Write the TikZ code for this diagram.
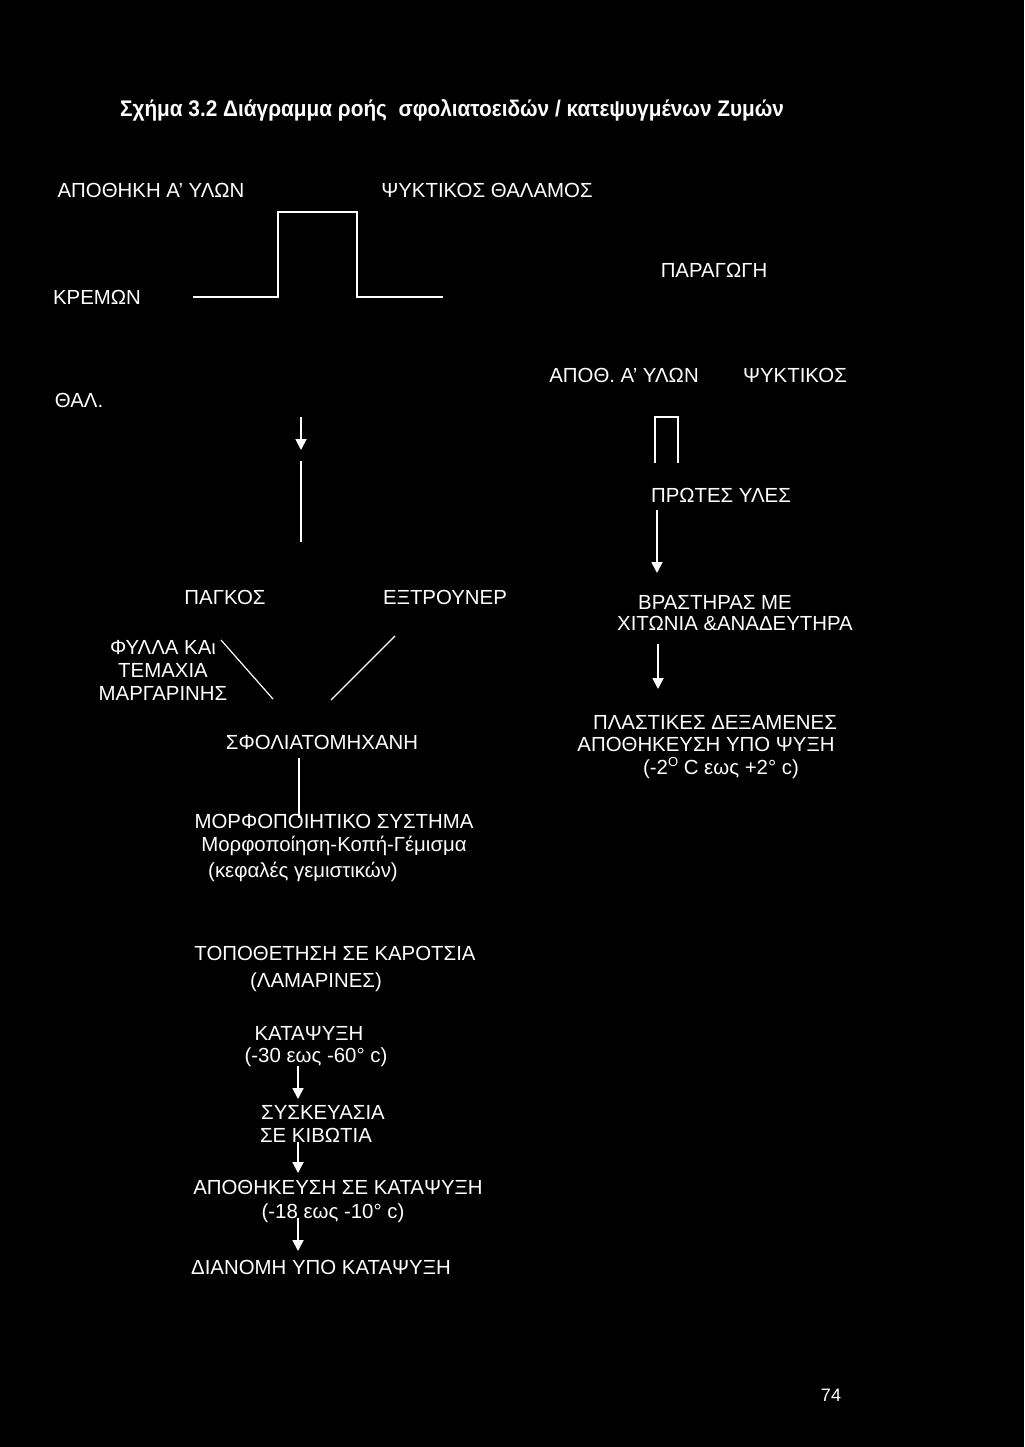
\documentclass[tikz,border=0pt]{standalone}
\usepackage{fontspec}
\setmainfont{Liberation Sans}
\newfontfamily\titlefont[FakeStretch=0.92]{Liberation Sans}
\usetikzlibrary{arrows.meta}
\newcommand{\supO}{\raisebox{0.75ex}{\fontsize{6.5}{7}\selectfont O}}
\begin{document}
\begin{tikzpicture}[x=0.5pt,y=-0.5pt,
  lbl/.style={text=white,inner sep=0pt,font=\fontsize{10.2}{12}\selectfont},
  wire/.style={draw=white,line width=0.9pt},
  arr/.style={wire,-{Triangle[width=5.5pt,length=5.5pt]}}]
\fill[black] (0,0) rectangle (1024,1447);
\useasboundingbox (0,0) rectangle (1024,1447);
% title
\node[lbl,font=\titlefont\bfseries\fontsize{11.3}{13}\selectfont] (title) at (452,110) {Σχήμα 3.2 Διάγραμμα ροής \ σφολιατοειδών / κατεψυγμένων Ζυμών};
% top
\node[lbl] (apoth) at (151,190) {ΑΠΟΘΗΚΗ Α’ ΥΛΩΝ};
\node[lbl] (psykt) at (487,190) {ΨΥΚΤΙΚΟΣ ΘΑΛΑΜΟΣ};
\node[lbl] (krem) at (97,297) {ΚΡΕΜΩΝ};
\node[lbl] (parag) at (714,270) {ΠΑΡΑΓΩΓΗ};
\node[lbl] (thal) at (79,400) {ΘΑΛ.};
\coordinate (s0) at (193,297);
\coordinate (s1) at (278,297);
\coordinate (s2) at (278,212);
\coordinate (s3) at (357,212);
\coordinate (s4) at (357,297);
\coordinate (s5) at (443,297);
\draw[wire] (s0) -- (s1) -- (s2) -- (s3) -- (s4) -- (s5);
% right top
\node[lbl] (apoth2) at (624,375) {ΑΠΟΘ. Α’ ΥΛΩΝ};
\node[lbl] (psykt2) at (795,375) {ΨΥΚΤΙΚΟΣ};
\coordinate (p0) at (655,463);
\coordinate (p1) at (655,417);
\coordinate (p2) at (678,417);
\coordinate (p3) at (678,463);
\draw[wire] (p0) -- (p1) -- (p2) -- (p3);
\node[lbl] (protes) at (721,495) {ΠΡΩΤΕΣ ΥΛΕΣ};
\node[lbl] (vr1) at (715,602) {ΒΡΑΣΤΗΡΑΣ ΜΕ};
\node[lbl] (vr2) at (735,623) {ΧΙΤΩΝΙΑ \&ΑΝΑΔΕΥΤΗΡΑ};
\coordinate (a1s) at (657,510);
\coordinate (a1e) at (657,573);
\draw[arr] (a1s) -- (a1e);
\coordinate (a2s) at (658,644);
\coordinate (a2e) at (658,689);
\draw[arr] (a2s) -- (a2e);
\node[lbl] (pl1) at (715,722) {ΠΛΑΣΤΙΚΕΣ ΔΕΞΑΜΕΝΕΣ};
\node[lbl] (pl2) at (706,744) {ΑΠΟΘΗΚΕΥΣΗ ΥΠΟ ΨΥΞΗ};
\node[lbl] (pl3) at (721,768) {(-2\supO\ C εως +2° c)};
% left column
\coordinate (l0) at (301,417);
\coordinate (l1) at (301,450);
\draw[arr] (l0) -- (l1);
\coordinate (l2) at (301,461);
\coordinate (l3) at (301,542);
\draw[wire] (l2) -- (l3);
\node[lbl] (pagk) at (225,597) {ΠΑΓΚΟΣ};
\node[lbl] (extr) at (445,597) {ΕΞΤΡΟΥΝΕΡ};
\node[lbl,align=center,font=\fontsize{10.2}{11.5}\selectfont] (fyl) at (163,670) {ΦΥΛΛΑ ΚΑι\\ΤΕΜΑΧΙΑ\\ΜΑΡΓΑΡΙΝΗΣ};
\coordinate (d1s) at (221,640);
\coordinate (d1e) at (273,699);
\draw[wire,line width=0.6pt] (d1s) -- (d1e);
\coordinate (d2s) at (395,636);
\coordinate (d2e) at (331,700);
\draw[wire,line width=0.6pt] (d2s) -- (d2e);
\node[lbl] (sfol) at (322,742) {ΣΦΟΛΙΑΤΟΜΗΧΑΝΗ};
\coordinate (v0) at (299,758);
\coordinate (v1) at (299,818);
\draw[wire] (v0) -- (v1);
\node[lbl] (morf1) at (334,821) {ΜΟΡΦΟΠΟΙΗΤΙΚΟ ΣΥΣΤΗΜΑ};
\node[lbl] (morf2) at (334,846) {Μορφοποίηση-Κοπή-Γέμισμα};
\node[lbl] (morf3) at (303,872) {(κεφαλές γεμιστικών)};
% bottom
\node[lbl] (top1) at (335,953) {ΤΟΠΟΘΕΤΗΣΗ ΣΕ ΚΑΡΟΤΣΙΑ};
\node[lbl] (top2) at (316,982) {(ΛΑΜΑΡΙΝΕΣ)};
\node[lbl] (kat1) at (309,1033) {ΚΑΤΑΨΥΞΗ};
\node[lbl] (kat2) at (316,1057) {(-30 εως -60° c)};
\node[lbl] (sys1) at (323,1112) {ΣΥΣΚΕΥΑΣΙΑ};
\node[lbl] (sys2) at (316,1135) {ΣΕ ΚΙΒΩΤΙΑ};
\node[lbl] (apk1) at (338,1187) {ΑΠΟΘΗΚΕΥΣΗ ΣΕ ΚΑΤΑΨΥΞΗ};
\node[lbl] (apk2) at (333,1213) {(-18 εως -10° c)};
\node[lbl] (dian) at (321,1267) {ΔΙΑΝΟΜΗ ΥΠΟ ΚΑΤΑΨΥΞΗ};
\coordinate (b1s) at (298,1066);
\coordinate (b1e) at (298,1099);
\draw[arr] (b1s) -- (b1e);
\coordinate (b2s) at (298,1142);
\coordinate (b2e) at (298,1173);
\draw[arr] (b2s) -- (b2e);
\coordinate (b3s) at (298,1218);
\coordinate (b3e) at (298,1251);
\draw[arr] (b3s) -- (b3e);
\node[lbl,font=\fontsize{9}{10}\selectfont] (page) at (831,1395) {74};
\end{tikzpicture}
\end{document}
